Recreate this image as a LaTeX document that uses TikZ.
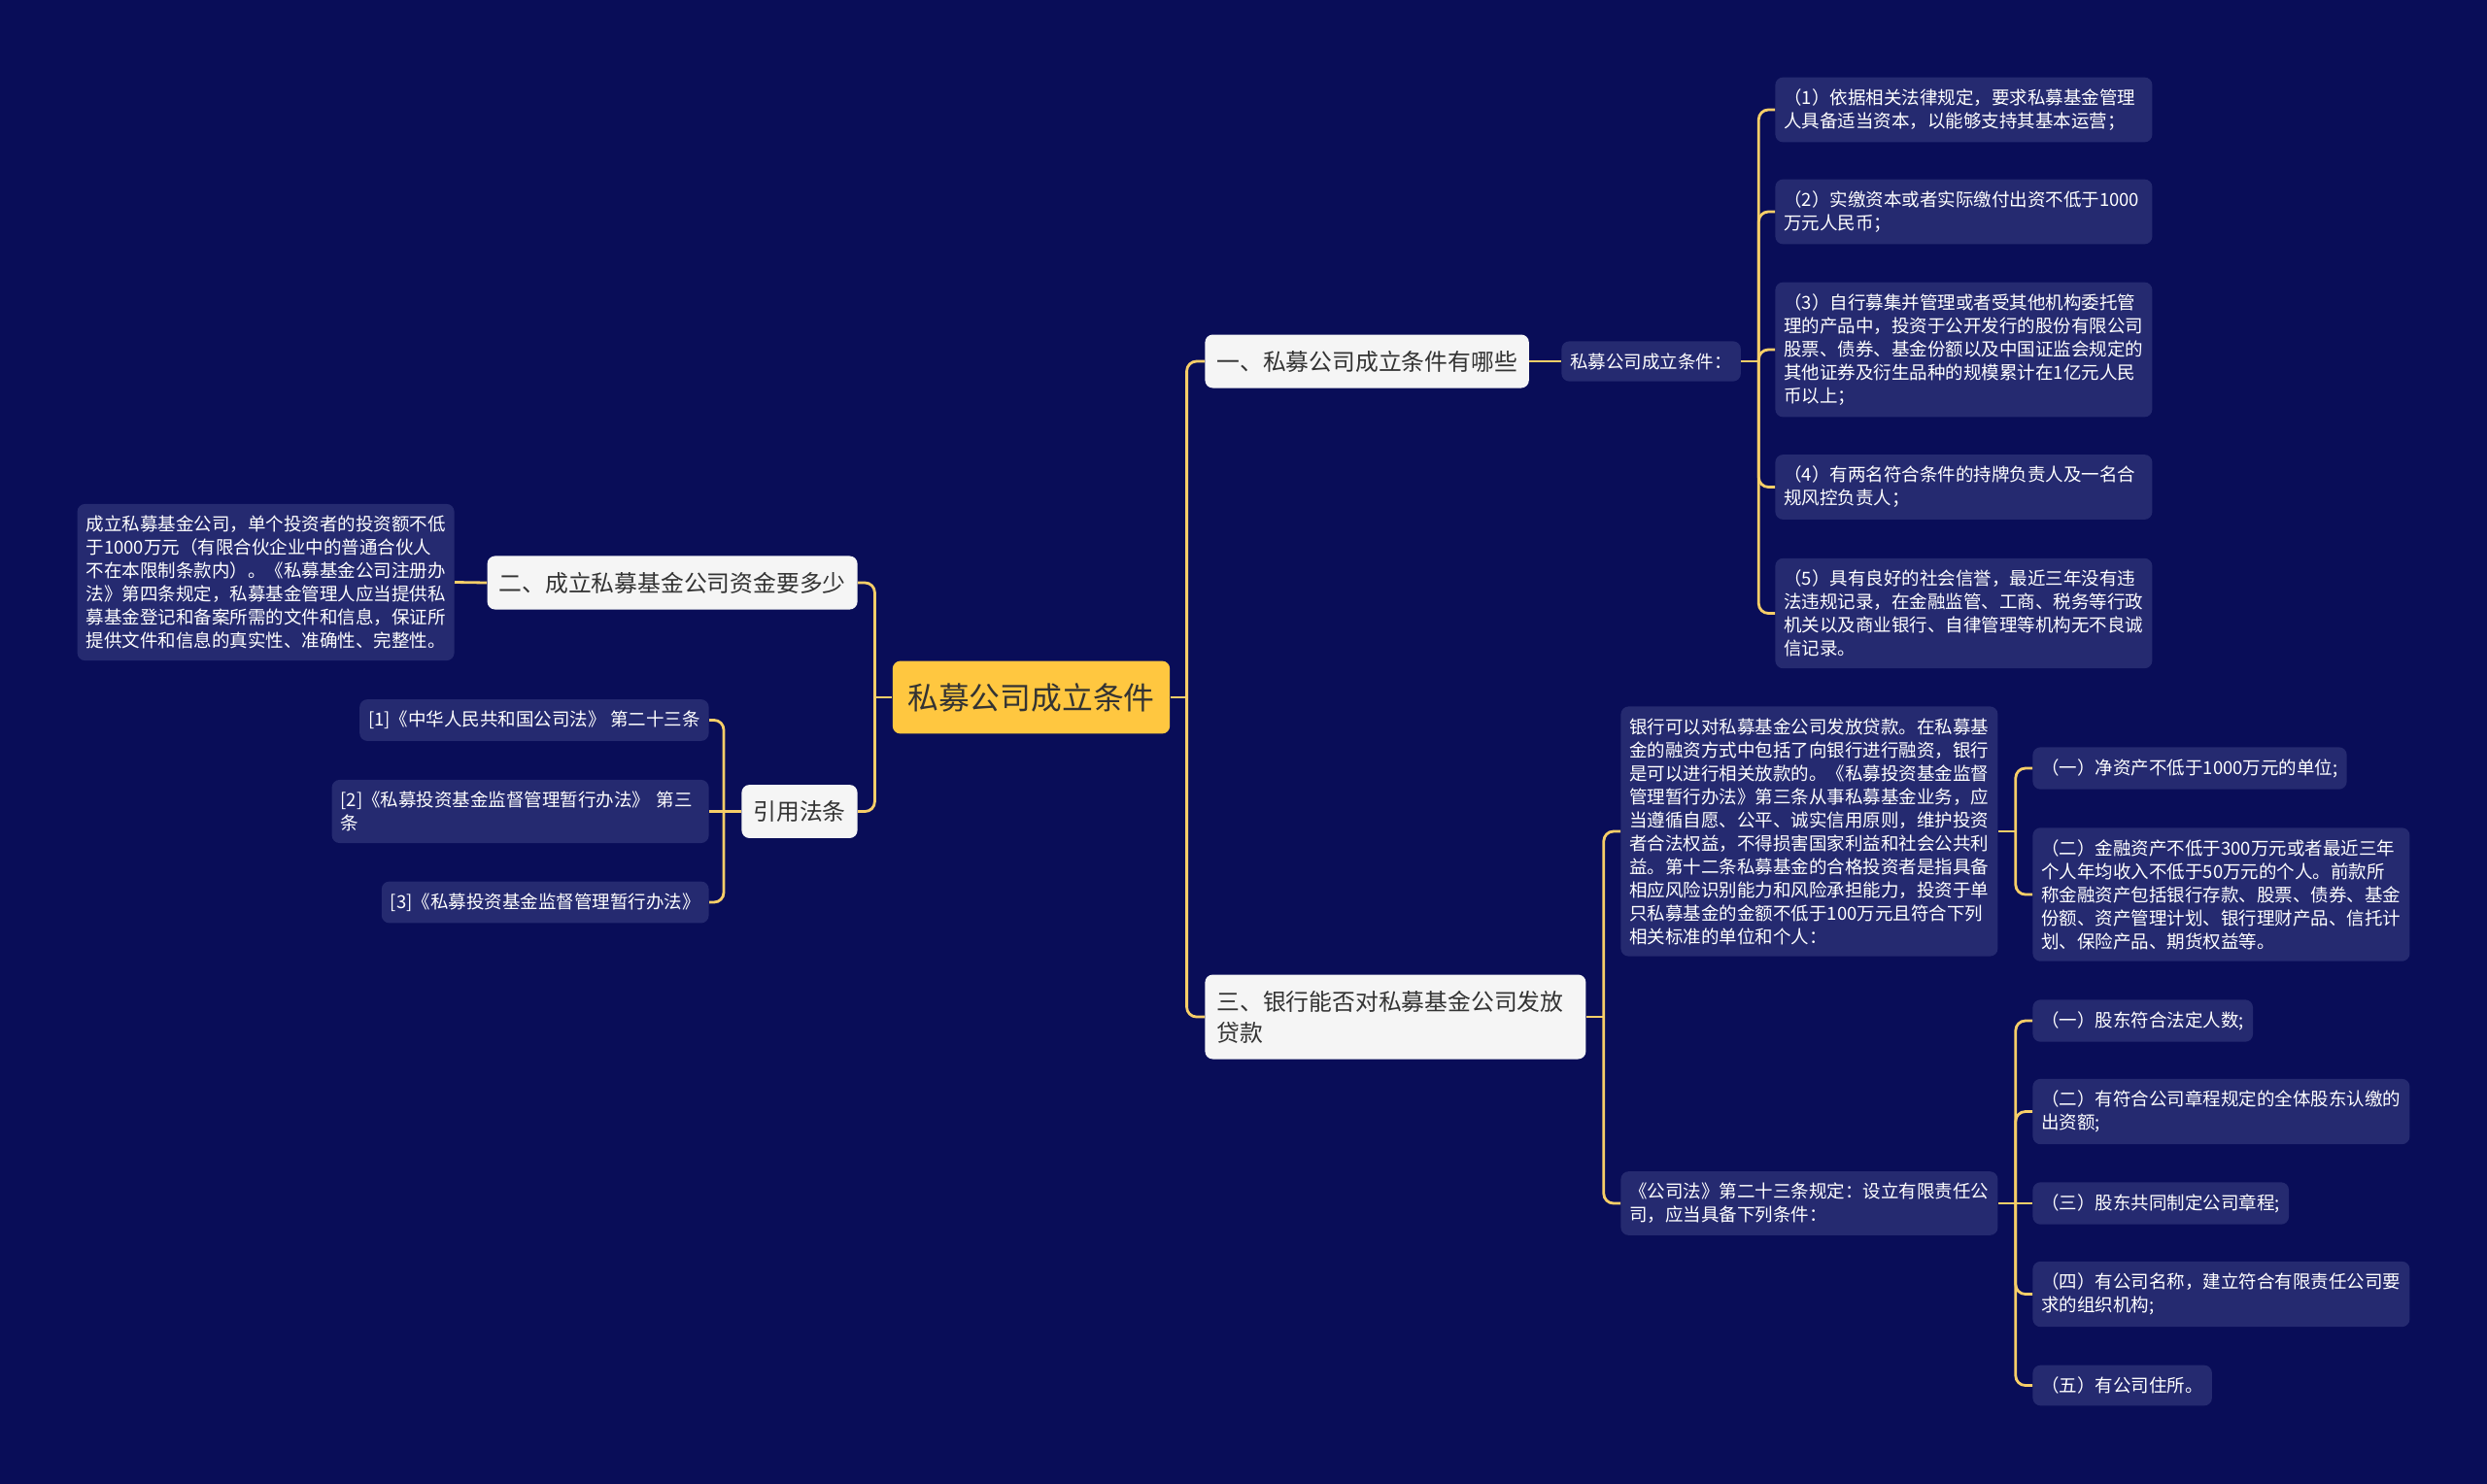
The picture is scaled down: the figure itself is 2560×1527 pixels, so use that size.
\documentclass[tikz,border=0pt]{standalone}
\usepackage{fontspec}
\setmainfont{Noto Sans CJK SC}
\usepackage{tikz}
\definecolor{bgnavy}{RGB}{9,13,88}
\definecolor{leafblue}{RGB}{37,42,112}
\definecolor{rootgold}{RGB}{255,199,64}
\definecolor{linegold}{RGB}{247,206,104}
\definecolor{topicwhite}{RGB}{245,245,245}
\definecolor{inkgray}{RGB}{51,51,51}

\begin{document}
\begin{tikzpicture}[x=0.5pt,y=-0.5pt,
  rootbox/.style={fill=rootgold, text=inkgray, rounded corners=4pt, inner xsep=7.75pt, inner ysep=11.3pt, font=\fontsize{15.9}{20}\selectfont},
  topic/.style={fill=topicwhite, text=inkgray, rounded corners=4pt, inner xsep=6pt, inner ysep=8.2pt, align=left, font=\fontsize{11.9}{16}\selectfont},
  leaf/.style={fill=leafblue, text=white, rounded corners=4pt, inner xsep=4.5pt, inner ysep=6pt, align=left, font=\fontsize{9.25}{12}\selectfont},
  wrapped/.style={text width=185pt},
  link/.style={draw=linegold, line width=1.4pt, rounded corners=5pt}]
\useasboundingbox (0,0) rectangle (2560,1527);
\fill[bgnavy] (-4,-4) rectangle (2564,1531);

\node[rootbox] (root) at (1061.5,718) {私募公司成立条件};

\node[topic, anchor=west] (why) at (1240,372) {一、私募公司成立条件有哪些};
\node[topic, anchor=east] (howmuch) at (883,600) {二、成立私募基金公司资金要多少};
\node[topic, anchor=west, text width=184pt] (loan) at (1240,1047) {三、银行能否对私募基金公司发放\\贷款};
\node[topic, anchor=east] (laws) at (883,835.5) {引用法条};

\node[leaf, anchor=west] (cond) at (1607,372) {私募公司成立条件：};
\node[leaf, wrapped, anchor=west] (c1) at (1827,113) {（1）依据相关法律规定，要求私募基金管理\\人具备适当资本，以能够支持其基本运营；};
\node[leaf, wrapped, anchor=west] (c2) at (1827,218) {（2）实缴资本或者实际缴付出资不低于1000\\万元人民币；};
\node[leaf, wrapped, anchor=west] (c3) at (1827,360) {（3）自行募集并管理或者受其他机构委托管\\理的产品中，投资于公开发行的股份有限公司\\股票、债券、基金份额以及中国证监会规定的\\其他证券及衍生品种的规模累计在1亿元人民\\币以上；};
\node[leaf, wrapped, anchor=west] (c4) at (1827,501.5) {（4）有两名符合条件的持牌负责人及一名合\\规风控负责人；};
\node[leaf, wrapped, anchor=west] (c5) at (1827,631.5) {（5）具有良好的社会信誉，最近三年没有违\\法违规记录，在金融监管、工商、税务等行政\\机关以及商业银行、自律管理等机构无不良诚\\信记录。};

\node[leaf, wrapped, anchor=east] (fund) at (468,599.5) {成立私募基金公司，单个投资者的投资额不低\\于1000万元（有限合伙企业中的普通合伙人\\不在本限制条款内）。《私募基金公司注册办\\法》第四条规定，私募基金管理人应当提供私\\募基金登记和备案所需的文件和信息，保证所\\提供文件和信息的真实性、准确性、完整性。};

\node[leaf, anchor=east] (ref1) at (730,741.5) {[1]《中华人民共和国公司法》 第二十三条};
\node[leaf, wrapped, anchor=east] (ref2) at (730,835.5) {[2]《私募投资基金监督管理暂行办法》 第三\\条};
\node[leaf, anchor=east] (ref3) at (730,929) {[3]《私募投资基金监督管理暂行办法》};

\node[leaf, wrapped, anchor=west] (bank) at (1668,856) {银行可以对私募基金公司发放贷款。在私募基\\金的融资方式中包括了向银行进行融资，银行\\是可以进行相关放款的。《私募投资基金监督\\管理暂行办法》第三条从事私募基金业务，应\\当遵循自愿、公平、诚实信用原则，维护投资\\者合法权益，不得损害国家利益和社会公共利\\益。第十二条私募基金的合格投资者是指具备\\相应风险识别能力和风险承担能力，投资于单\\只私募基金的金额不低于100万元且符合下列\\相关标准的单位和个人：};
\node[leaf, wrapped, anchor=west] (corp) at (1668,1239) {《公司法》第二十三条规定：设立有限责任公\\司，应当具备下列条件：};

\node[leaf, anchor=west] (inv1) at (2092,791) {（一）净资产不低于1000万元的单位;};
\node[leaf, wrapped, anchor=west] (inv2) at (2092,921) {（二）金融资产不低于300万元或者最近三年\\个人年均收入不低于50万元的个人。前款所\\称金融资产包括银行存款、股票、债券、基金\\份额、资产管理计划、银行理财产品、信托计\\划、保险产品、期货权益等。};

\node[leaf, anchor=west] (req1) at (2092,1051) {（一）股东符合法定人数;};
\node[leaf, wrapped, anchor=west] (req2) at (2092,1144.5) {（二）有符合公司章程规定的全体股东认缴的\\出资额;};
\node[leaf, anchor=west] (req3) at (2092,1239) {（三）股东共同制定公司章程;};
\node[leaf, wrapped, anchor=west] (req4) at (2092,1332.5) {（四）有公司名称，建立符合有限责任公司要\\求的组织机构;};
\node[leaf, anchor=west] (req5) at (2092,1426.5) {（五）有公司住所。};

\draw[link] (root.east) -- ++(17,0) coordinate (rootR);
\draw[link] (rootR) |- (why.west);
\draw[link] (rootR) |- (loan.west);
\draw[link] (root.west) -- ++(-18,0) coordinate (rootL);
\draw[link] (rootL) |- (howmuch.east);
\draw[link] (rootL) |- (laws.east);

\draw[link] (why.east) -- (cond.west);
\draw[link] (cond.east) -- ++(18,0) coordinate (condR);
\draw[link] (condR) |- (c1.west);
\draw[link] (condR) |- (c2.west);
\draw[link] (condR) |- (c3.west);
\draw[link] (condR) |- (c4.west);
\draw[link] (condR) |- (c5.west);

\draw[link] (howmuch.west) -- (fund.east);

\draw[link] (laws.west) -- ++(-18,0) coordinate (lawsL);
\draw[link] (lawsL) |- (ref1.east);
\draw[link] (lawsL) -- (ref2.east);
\draw[link] (lawsL) |- (ref3.east);

\draw[link] (loan.east) -- ++(18,0) coordinate (loanR);
\draw[link] (loanR) |- (bank.west);
\draw[link] (loanR) |- (corp.west);

\draw[link] (bank.east) -- ++(18,0) coordinate (bankR);
\draw[link] (bankR) |- (inv1.west);
\draw[link] (bankR) |- (inv2.west);

\draw[link] (corp.east) -- ++(18,0) coordinate (corpR);
\draw[link] (corpR) |- (req1.west);
\draw[link] (corpR) |- (req2.west);
\draw[link] (corpR) -- (req3.west);
\draw[link] (corpR) |- (req4.west);
\draw[link] (corpR) |- (req5.west);
\end{tikzpicture}
\end{document}
